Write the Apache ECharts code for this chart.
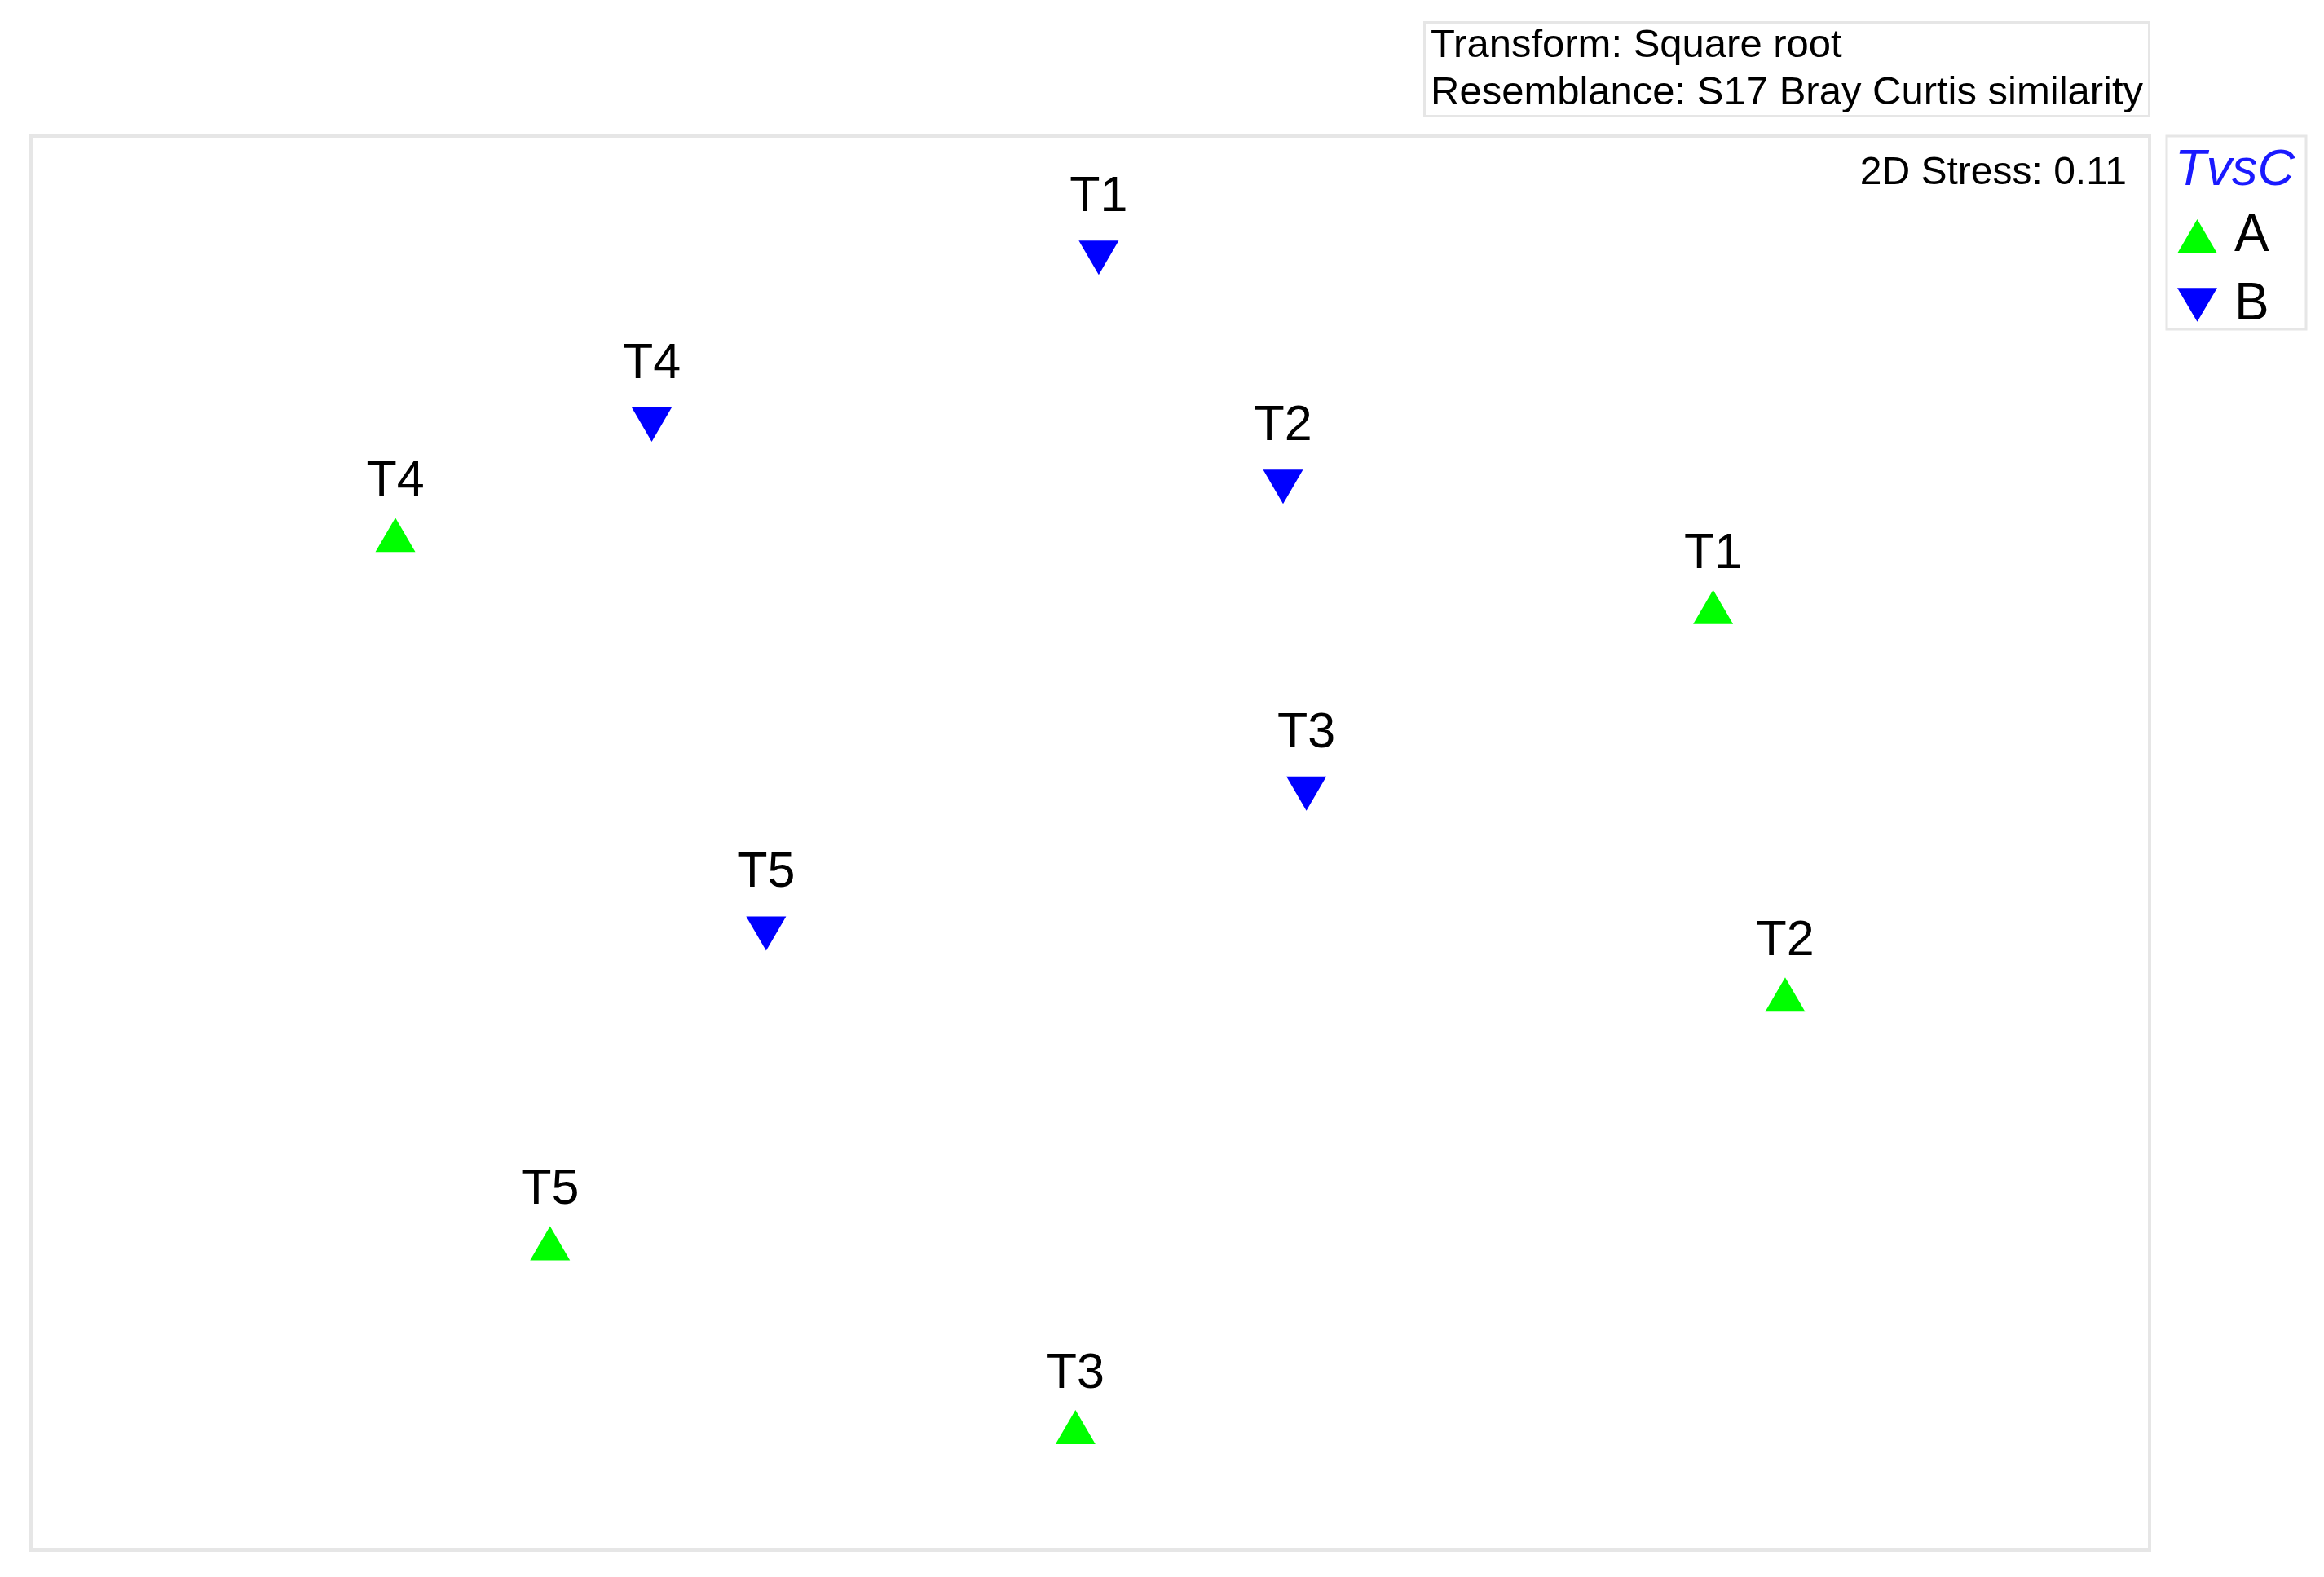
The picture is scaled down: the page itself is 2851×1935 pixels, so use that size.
<!DOCTYPE html>
<html>
  <head>
    <meta charset="utf-8" />
    <title>MDS TvsC</title>
    <script src="https://cdn.jsdelivr.net/npm/echarts@6/dist/echarts.min.js"></script>
    <style>
      * {
        margin: 0;
        padding: 0;
        box-sizing: border-box;
      }
    </style>
  </head>
  <body>
    <div id="main" style="width: 2851px; height: 1935px"></div>
    <script type="text/javascript">
      // MDS ordination, arbitrary units (0-100 across the frame)
      const labelsA = ["T4", "T1", "T2", "T5", "T3"];
      const xA = [17.2, 79.4, 82.8, 24.5, 49.3];
      const yA = [71.8, 66.7, 39.3, 21.7, 8.7];

      const labelsB = ["T1", "T4", "T2", "T3", "T5"];
      const xB = [50.4, 29.3, 59.1, 60.2, 34.7];
      const yB = [91.4, 79.6, 75.2, 53.5, 43.6];

      const font = '"Liberation Sans", Arial, Helvetica, sans-serif';
      const downTri = "path://M0,0 L20,0 L10,17 Z";

      function toData(labels, xs, ys) {
        return labels.map((name, i) => ({ name: name, value: [xs[i], ys[i]] }));
      }

      var myChart = echarts.init(document.getElementById("main"));

      var pointLabel = {
        show: true,
        position: "top",
        formatter: "{b}",
        fontFamily: font,
        fontSize: 61,
        lineHeight: 60,
        color: "#000",
      };

      var option = {
        backgroundColor: "#ffffff",
        animation: false,
        title: [
          {
            text: "Transform: Square root\nResemblance: S17 Bray Curtis similarity",
            left: 1747,
            top: 27,
            padding: [0, 8, 0, 8],
            borderColor: "#e6e6e6",
            borderWidth: 3,
            textStyle: {
              fontFamily: font,
              fontSize: 49,
              lineHeight: 58,
              fontWeight: "normal",
              color: "#000",
            },
          },
          {
            text: "2D Stress: 0.11",
            right: 242,
            top: 184,
            padding: 0,
            textStyle: {
              fontFamily: font,
              fontSize: 48,
              lineHeight: 58,
              fontWeight: "normal",
              color: "#000",
            },
          },
          {
            text: "TvsC",
            left: 2668,
            top: 174,
            padding: 0,
            textStyle: {
              fontFamily: font,
              fontSize: 63,
              lineHeight: 70,
              fontStyle: "italic",
              fontWeight: "normal",
              color: "#1a1aff",
            },
          },
        ],
        legend: {
          orient: "vertical",
          left: 2671,
          top: 257,
          padding: 0,
          itemWidth: 49,
          itemHeight: 42,
          itemGap: 18,
          textStyle: {
            fontFamily: font,
            fontSize: 64,
            lineHeight: 66,
            color: "#000",
            padding: [0, 0, 0, 16],
          },
          data: ["A", "B"],
        },
        graphic: [
          {
            type: "rect",
            shape: { x: 2658, y: 167, width: 171, height: 237 },
            style: { fill: "none", stroke: "#e6e6e6", lineWidth: 3 },
          },
        ],
        grid: {
          left: 38,
          right: 214,
          top: 167,
          bottom: 33,
          show: true,
          borderColor: "#e6e6e6",
          borderWidth: 4,
          backgroundColor: "#ffffff",
        },
        xAxis: {
          type: "value",
          min: 0,
          max: 100,
          show: false,
        },
        yAxis: {
          type: "value",
          min: 0,
          max: 100,
          show: false,
        },
        series: [
          {
            name: "A",
            type: "scatter",
            symbol: "triangle",
            symbolSize: [49, 42],
            itemStyle: { color: "#00ff00", opacity: 1 },
            label: Object.assign({ distance: 14 }, pointLabel),
            data: toData(labelsA, xA, yA),
          },
          {
            name: "B",
            type: "scatter",
            symbol: downTri,
            symbolSize: [49, 42],
            itemStyle: { color: "#0000ff", opacity: 1 },
            label: Object.assign({ distance: 23 }, pointLabel),
            data: toData(labelsB, xB, yB),
          },
        ],
      };

      myChart.setOption(option);
    </script>
  </body>
</html>
